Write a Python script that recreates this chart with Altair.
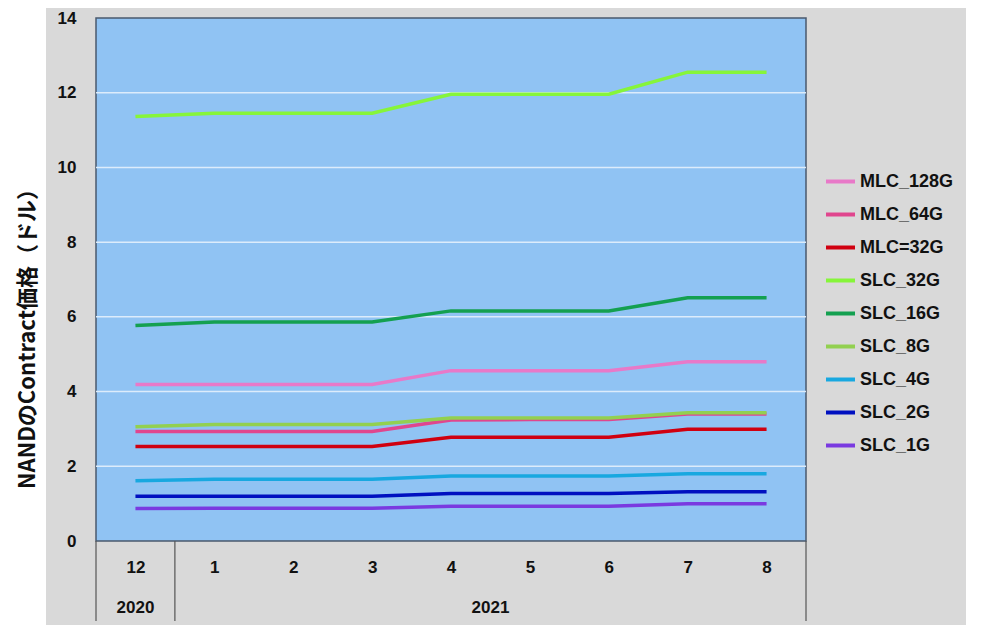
import altair as alt
import pandas as pd

months = ["12", "1", "2", "3", "4", "5", "6", "7", "8"]
years = ["2020", "2021"]
year_pos = [0, 4.5]
separators = [-0.5, 0.5, 8.5]
y_ticks = [0, 2, 4, 6, 8, 10, 12, 14]
grid_vals = [2, 4, 6, 8, 10, 12]

series_names = ["MLC_128G", "MLC_64G", "MLC=32G", "SLC_32G", "SLC_16G",
                "SLC_8G", "SLC_4G", "SLC_2G", "SLC_1G"]
series_colors = ["#E879C8", "#E0468E", "#D00010", "#86F53A", "#14A050",
                 "#92D050", "#18A8E0", "#0010C0", "#7A3AE0"]

mlc_128g = [4.19, 4.19, 4.19, 4.19, 4.56, 4.56, 4.56, 4.80, 4.80]
mlc_64g = [2.93, 2.93, 2.93, 2.93, 3.24, 3.25, 3.25, 3.40, 3.40]
mlc_32g = [2.53, 2.53, 2.53, 2.53, 2.78, 2.78, 2.78, 2.99, 2.99]
slc_32g = [11.36, 11.45, 11.45, 11.45, 11.96, 11.96, 11.96, 12.55, 12.55]
slc_16g = [5.77, 5.86, 5.86, 5.86, 6.16, 6.16, 6.16, 6.51, 6.51]
slc_8g = [3.06, 3.12, 3.12, 3.12, 3.29, 3.29, 3.29, 3.43, 3.43]
slc_4g = [1.61, 1.65, 1.65, 1.65, 1.74, 1.74, 1.74, 1.80, 1.80]
slc_2g = [1.20, 1.20, 1.20, 1.20, 1.27, 1.27, 1.27, 1.32, 1.32]
slc_1g = [0.87, 0.88, 0.88, 0.88, 0.93, 0.93, 0.93, 1.00, 1.00]

all_series = [mlc_128g, mlc_64g, mlc_32g, slc_32g, slc_16g, slc_8g, slc_4g, slc_2g, slc_1g]

rows = []
for si, (name, vals) in enumerate(zip(series_names, all_series)):
    for mi, v in enumerate(vals):
        rows.append({"series": name, "order": si, "idx": mi, "value": v})
df = pd.DataFrame(rows)

W, H = 710, 523
FONT = "Liberation Sans"
TITLE = "NANDのContract価格（ドル）"

xscale = alt.Scale(domain=[-0.5, 8.5], nice=False, zero=False)
yscale = alt.Scale(domain=[0, 14], nice=False)

label_expr = "[" + ",".join("'%s'" % m for m in months) + "][datum.value]"

x_axis = alt.Axis(values=list(range(len(months))), labelExpr=label_expr,
                  grid=False, domain=False, ticks=False, tickSize=0,
                  labelPadding=18, labelFontSize=17, labelFont=FONT,
                  labelFontWeight="bold", labelColor="#111111", zindex=1)
y_axis = alt.Axis(values=y_ticks, grid=False, domain=False, ticks=False,
                  tickSize=0, labelPadding=20, labelFontSize=17,
                  labelFont=FONT, labelFontWeight="bold",
                  labelColor="#111111", titleFont="Noto Sans CJK JP",
                  titleFontSize=22, titleFontWeight="bold",
                  titleColor="#111111", titleX=-69, titleY=315,
                  titleBaseline="middle", zindex=1)

dummy = pd.DataFrame({"a": [0]})

gray_bg = alt.Chart(dummy).mark_rect(color="#d9d9d9", clip=False).encode(
    x=alt.value(-50), x2=alt.value(870), y=alt.value(-10), y2=alt.value(H + 84)
)
blue_bg = alt.Chart(dummy).mark_rect(
    fill="#90C3F3", stroke="#4a5a6e", strokeWidth=1.5
).encode(x=alt.value(0), x2=alt.value(W), y=alt.value(0), y2=alt.value(H))

grid = alt.Chart(pd.DataFrame({"g": grid_vals})).mark_rule(
    color="#dcecfb", strokeWidth=1.5
).encode(y=alt.Y("g:Q", scale=yscale, title=TITLE, axis=y_axis))

lines = alt.Chart(df).mark_line(strokeWidth=3.5).encode(
    x=alt.X("idx:Q", scale=xscale, title=None, axis=x_axis),
    y=alt.Y("value:Q", scale=yscale, title=TITLE, axis=y_axis),
    color=alt.Color("series:N",
                    scale=alt.Scale(domain=series_names, range=series_colors),
                    legend=alt.Legend(orient="none", legendX=728, legendY=147,
                                      title=None, symbolType="stroke",
                                      symbolSize=841, symbolStrokeWidth=4,
                                      labelFontSize=18, labelFont=FONT,
                                      labelFontWeight="bold",
                                      labelColor="#111111", rowPadding=7,
                                      labelOffset=3, padding=0)),
    order=alt.Order("order:Q"),
    detail="series:N",
)

seps = alt.Chart(pd.DataFrame({"s": separators})).mark_rule(
    color="#555555", strokeWidth=1.2, clip=False
).encode(x=alt.X("s:Q", scale=xscale, title=None, axis=x_axis),
         y=alt.value(H), y2=alt.value(H + 80))

year_text = alt.Chart(pd.DataFrame({"year": years, "pos": year_pos})).mark_text(
    font=FONT, fontSize=17, fontWeight="bold", color="#111111",
    baseline="middle", clip=False
).encode(x=alt.X("pos:Q", scale=xscale, title=None, axis=x_axis),
         y=alt.value(H + 67), text="year:N")

chart = alt.layer(gray_bg, blue_bg, grid, lines, seps, year_text).properties(
    width=W, height=H,
    autosize=alt.AutoSizeParams(type="none"),
    padding={"left": 88, "top": 10, "right": 186, "bottom": 90},
    background="white",
).configure_view(strokeWidth=0)

chart.save("out.html", embed_options={"renderer": "svg", "actions": False})
